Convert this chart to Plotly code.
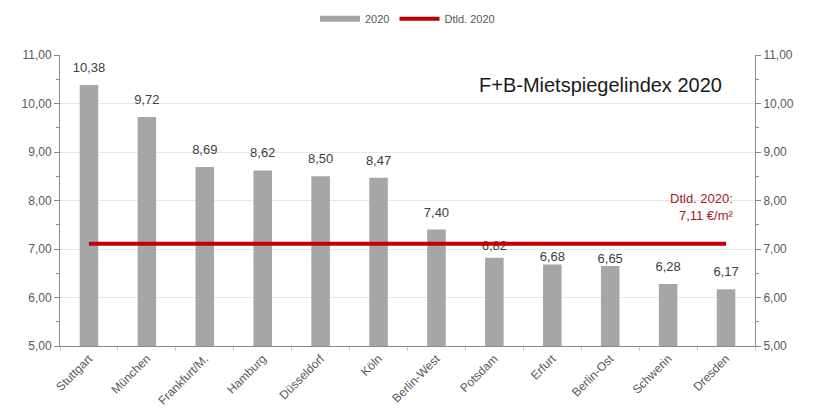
import plotly.graph_objects as go

cities = ["Stuttgart", "München", "Frankfurt/M.", "Hamburg", "Düsseldorf", "Köln",
          "Berlin-West", "Potsdam", "Erfurt", "Berlin-Ost", "Schwerin", "Dresden"]
values_2020 = [10.38, 9.72, 8.69, 8.62, 8.50, 8.47, 7.40, 6.82, 6.68, 6.65, 6.28, 6.17]
dtld_2020 = 7.11
y_ticks = [5, 6, 7, 8, 9, 10, 11]

GRAY = "#a6a6a6"
RED = "#c00000"
TXT = "#595959"
FONT = "Liberation Sans, Arial, sans-serif"
# per-label spacing above the bar (labels near the average line sit lower, as in the original)
label_pad = [14, 14, 14, 14, 14, 14, 14, 6, 0, 0, 14, 14]

fig = go.Figure()
fig.add_trace(go.Bar(
    x=cities, y=values_2020, name="2020", showlegend=False,
    marker=dict(color=GRAY, line=dict(width=0)),
    width=0.32,
))
# legend entry for the bars, drawn as a wide gray stroke like the original
fig.add_trace(go.Scatter(
    x=[None], y=[None], name="2020", mode="lines",
    line=dict(color=GRAY, width=6),
))
# value labels (drawn before the line so the line covers them, as in the original)
fig.add_trace(go.Scatter(
    x=cities, y=values_2020, mode="markers+text", showlegend=False,
    marker=dict(size=label_pad, opacity=0), hoverinfo="skip",
    text=values_2020, texttemplate="%{y:.2f}", textposition="top center",
    textfont=dict(size=13, color="#404040", family=FONT),
    cliponaxis=False,
))
fig.add_trace(go.Scatter(
    x=cities, y=[dtld_2020] * len(cities), name="Dtld. 2020",
    mode="lines", line=dict(color=RED, width=4),
))
fig.add_trace(go.Scatter(
    x=[cities[0]], y=[dtld_2020], yaxis="y2", showlegend=False,
    mode="markers", marker=dict(opacity=0), hoverinfo="skip",
))

axis_common = dict(
    range=[5, 11], tickvals=y_ticks, tickformat=".2f",
    showline=True, linecolor="#8c8c8c", linewidth=1,
    ticks="outside", ticklen=5, tickcolor="#8c8c8c",
    minor=dict(dtick=0.5, ticks="outside", ticklen=3, tickcolor="#8c8c8c"),
    tickfont=dict(size=12, color=TXT, family=FONT),
    zeroline=False,
)

fig.update_layout(
    width=814, height=416,
    margin=dict(l=60, r=59, t=55, b=70, autoexpand=False),
    paper_bgcolor="white", plot_bgcolor="white",
    separators=",.",
    font=dict(family=FONT, color=TXT),
    showlegend=True,
    legend=dict(orientation="h", x=0.5, xanchor="center", yref="container",
                y=0.955, yanchor="middle",
                font=dict(size=11, color=TXT), itemwidth=40),
    xaxis=dict(
        range=[-0.5, len(cities) - 0.5],
        showline=True, linecolor="#8c8c8c", ticks="outside", tickson="boundaries",
        ticklen=4, tickcolor="#cccccc", tickangle=-45,
        tickfont=dict(size=12, color=TXT, family=FONT),
    ),
    yaxis=dict(**axis_common, showgrid=True, gridcolor="#e6e6e6", gridwidth=1),
    yaxis2=dict(**axis_common, overlaying="y", side="right", showgrid=False),
    annotations=[
        dict(text="F+B-Mietspiegelindex 2020", xref="paper", yref="paper",
             x=0.955, y=0.897, xanchor="right", yanchor="middle", showarrow=False,
             font=dict(size=20, color="#1a1a1a", family=FONT)),
        dict(text="Dtld. 2020:<br>7,11 €/m²", xref="paper", yref="paper",
             x=0.972, y=0.478, xanchor="right", yanchor="middle", align="right",
             showarrow=False, font=dict(size=13, color="#a0202a", family=FONT)),
    ],
)

fig.write_html("out.html")
